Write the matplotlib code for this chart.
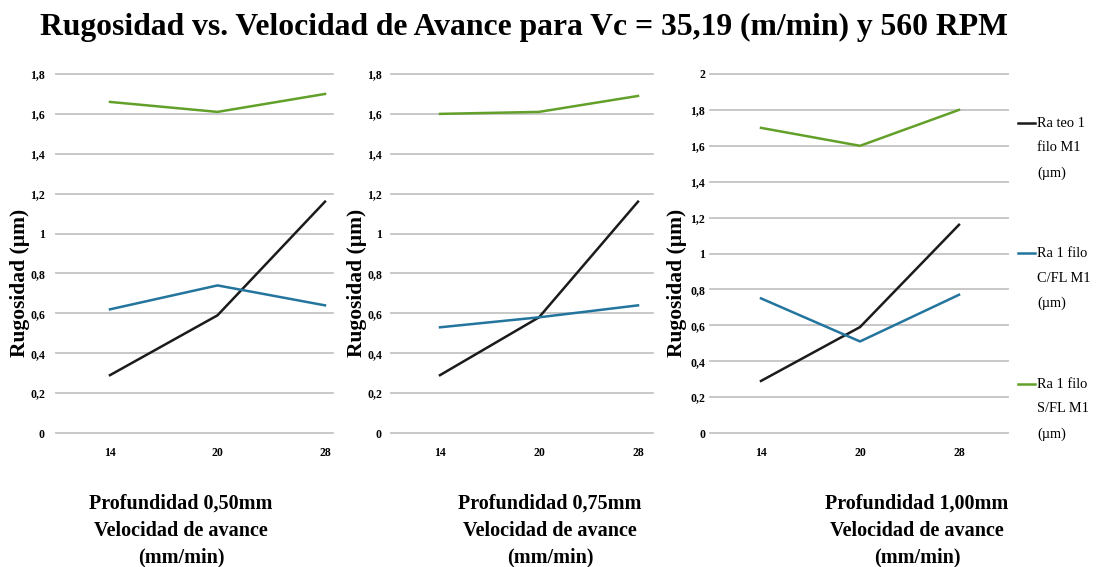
import numpy as np
import matplotlib
matplotlib.use('Agg')
import matplotlib.pyplot as plt
from matplotlib.lines import Line2D

plt.rcParams['font.family'] = ['Liberation Serif', 'DejaVu Serif']

W, H = 1098, 567

title = 'Rugosidad vs. Velocidad de Avance para Vc = 35,19 (m/min) y 560 RPM'
velocidades = ['14', '20', '28']
series = ['Ra teo 1\nfilo M1\n(µm)', 'Ra 1 filo\nC/FL M1\n(µm)', 'Ra 1 filo\nS/FL M1\n(µm)']
colors = ['#1b1b1b', '#23759e', '#62a02a']

# panel 1: profundidad 0,50 mm
ra_teo_050 = [0.29, 0.59, 1.16]
ra_cfl_050 = [0.62, 0.74, 0.64]
ra_sfl_050 = [1.66, 1.61, 1.70]
# panel 2: profundidad 0,75 mm
ra_teo_075 = [0.29, 0.58, 1.16]
ra_cfl_075 = [0.53, 0.58, 0.64]
ra_sfl_075 = [1.60, 1.61, 1.69]
# panel 3: profundidad 1,00 mm
ra_teo_100 = [0.29, 0.59, 1.16]
ra_cfl_100 = [0.75, 0.51, 0.77]
ra_sfl_100 = [1.70, 1.60, 1.80]

yticks_18 = [0, 0.2, 0.4, 0.6, 0.8, 1.0, 1.2, 1.4, 1.6, 1.8]
ylabels_18 = ['0', '0,2', '0,4', '0,6', '0,8', '1', '1,2', '1,4', '1,6', '1,8']
yticks_20 = [0, 0.2, 0.4, 0.6, 0.8, 1.0, 1.2, 1.4, 1.6, 1.8, 2.0]
ylabels_20 = ['0', '0,2', '0,4', '0,6', '0,8', '1', '1,2', '1,4', '1,6', '1,8', '2']

xlabels = ['Profundidad 0,50mm\nVelocidad de avance\n(mm/min)',
           'Profundidad 0,75mm\nVelocidad de avance\n(mm/min)',
           'Profundidad 1,00mm\nVelocidad de avance\n(mm/min)']

panels = [
    ([ra_teo_050, ra_cfl_050, ra_sfl_050], yticks_18, ylabels_18),
    ([ra_teo_075, ra_cfl_075, ra_sfl_075], yticks_18, ylabels_18),
    ([ra_teo_100, ra_cfl_100, ra_sfl_100], yticks_20, ylabels_20),
]

# pixel layout: (axes left, axes right, first category x, last category x,
#                ylabel x, xlabel center, ytick pad)
layout = [
    (56, 333, 110, 325, 20, 181, 8),
    (391, 653, 440, 638, 357, 550, 6.5),
    (710, 1008, 761, 959, 677, 917, 3.5),
]
top, bottom = 74, 433

fig = plt.figure(figsize=(W / 100, H / 100), dpi=100)

for i, ((data, yt, yl), (x0, x1, c0, c2, ylx, xlc, pad)) in enumerate(zip(panels, layout)):
    ax = fig.add_axes([x0 / W, 1 - bottom / H, (x1 - x0) / W, (bottom - top) / H])
    step = (c2 - c0) / 2
    xs = np.arange(len(velocidades))
    for vals, col in zip(data, colors):
        ax.plot(xs, vals, color=col, lw=1.8, zorder=3)
    ax.set_xlim((x0 - c0) / step, (x1 - c0) / step)
    ax.set_ylim(yt[0], yt[-1])
    ax.set_xticks(xs)
    ax.set_xticklabels(velocidades, fontsize=8.5, fontweight='bold')
    ax.set_yticks(yt)
    ax.set_yticklabels(yl, fontsize=8.5, fontweight='bold')
    ax.tick_params(length=0)
    ax.tick_params(axis='x', pad=10)
    ax.tick_params(axis='y', pad=pad)
    for s in ax.spines.values():
        s.set_visible(False)
    ax.grid(axis='y', color='#c4c4c4', lw=1.3)
    for gl in ax.get_ygridlines():
        gl.set_clip_on(False)
    ax.set_axisbelow(True)
    fig.text(ylx / W, 1 - 283 / H, 'Rugosidad (µm)', rotation=90, ha='center', va='center',
             fontsize=15.5, fontweight='bold')
    fig.text(xlc / W, 1 - 494 / H, xlabels[i], ha='center', va='top',
             fontsize=14.5, fontweight='bold', linespacing=1.45)

fig.text(524 / W, 1 - 27 / H, title, ha='center', va='center', fontsize=22.8, fontweight='bold')

# legend
for lab, col, ly in zip(series, colors, [123, 253, 384]):
    fig.add_artist(Line2D([1018 / W, 1035 / W], [1 - ly / H, 1 - ly / H], color=col, lw=1.8))
    fig.text(1037 / W, 1 - (ly - 6) / H, lab, ha='left', va='top', fontsize=10.4, linespacing=2.15)

fig.savefig('out.png', dpi=100, facecolor='white')
